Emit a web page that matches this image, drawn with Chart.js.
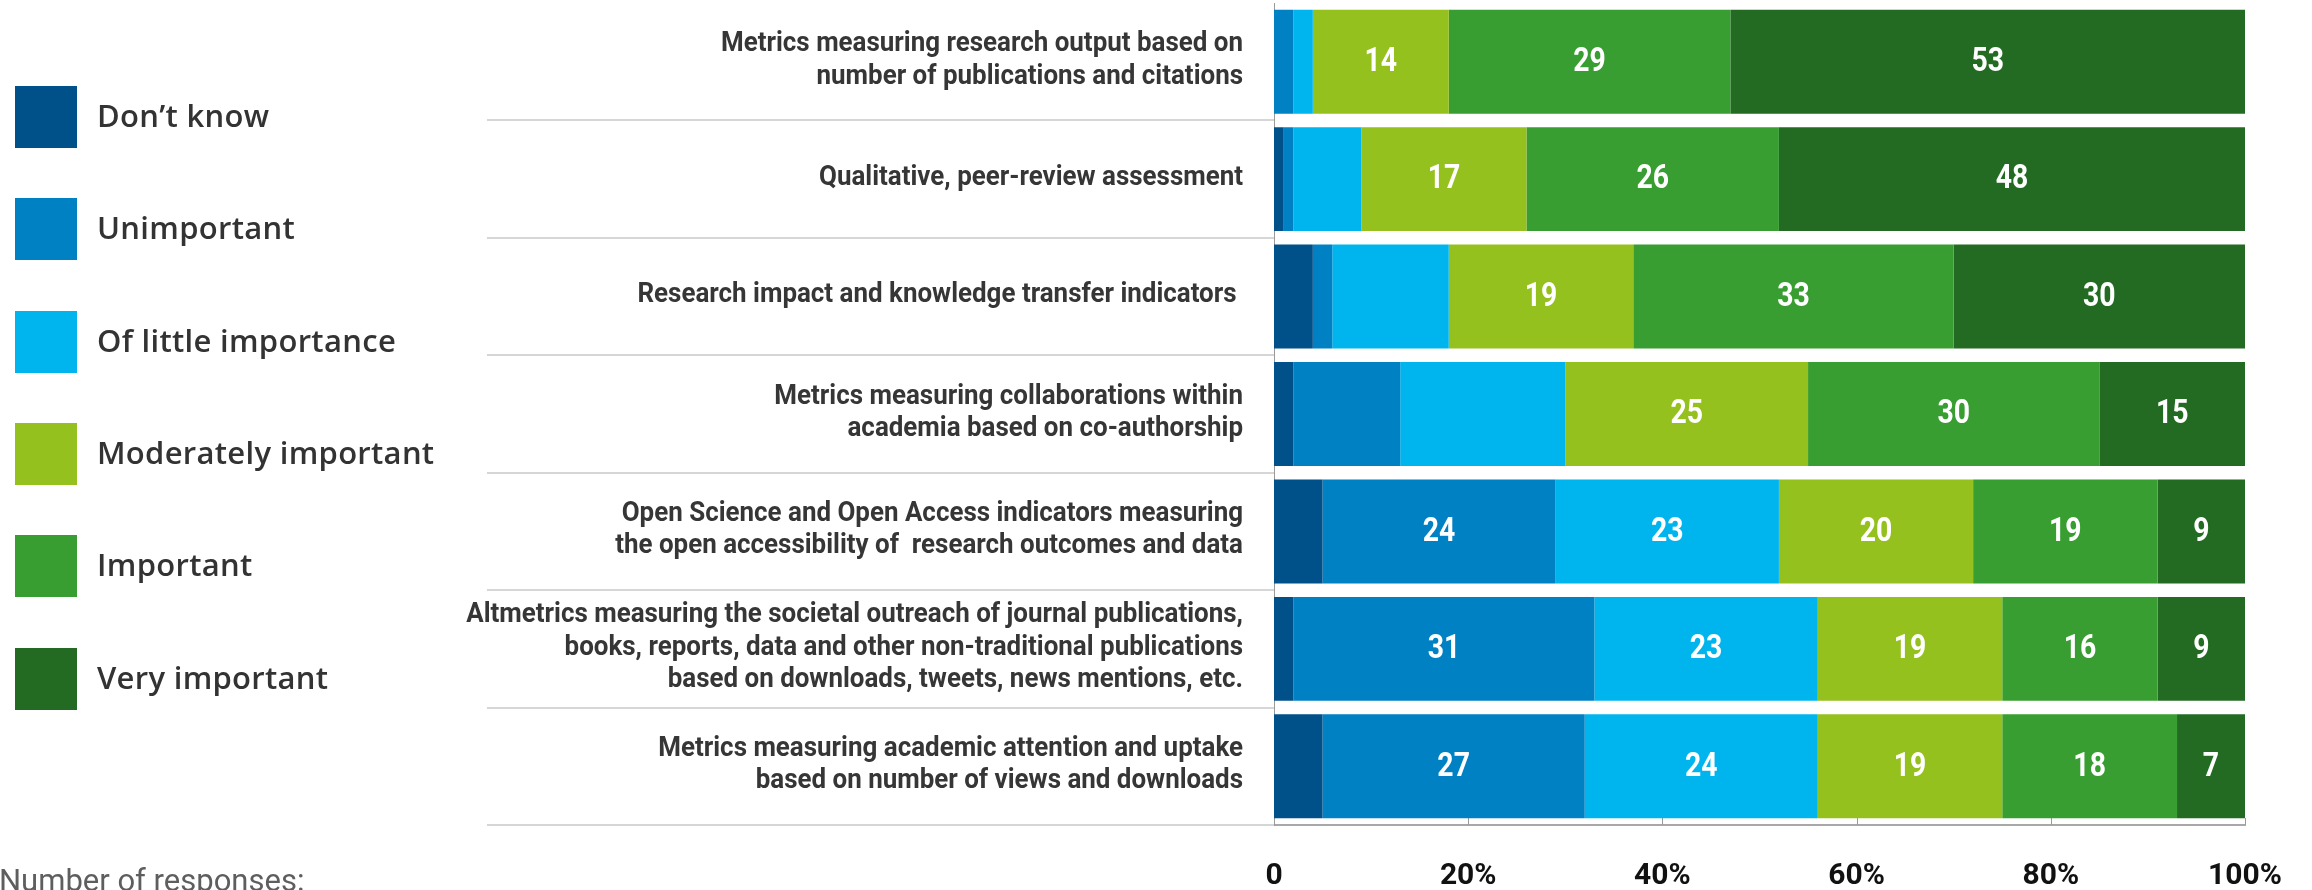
<!DOCTYPE html>
<html>
<head>
<meta charset="utf-8">
<script src="https://cdn.jsdelivr.net/npm/chart.js@4.4.1/dist/chart.umd.min.js"></script>
<style>
  html, body { margin: 0; padding: 0; background: #ffffff; }
  body { width: 2312px; height: 890px; position: relative; overflow: hidden; }
  #wrap { position: absolute; left: 0; top: 0; width: 2312px; height: 890px; }
  #legend { position: absolute; left: 0; top: 0; }
  .lg-item { position: absolute; left: 15px; height: 62px; width: 460px; }
  .lg-box { position: absolute; left: 0; top: 0; width: 62px; height: 62px; }
  .lg-text { position: absolute; left: 82px; top: -2px; height: 62px; line-height: 62px; white-space: nowrap;
             font-family: "Open Sans", "Noto Sans", sans-serif; font-weight: 600; font-size: 31px; color: #333333; letter-spacing: 0.3px; }
  #note { position: absolute; left: -1px; top: 862px; font-family: Roboto, "Open Sans", sans-serif; font-size: 31px;
          color: #5e5e5e; white-space: nowrap; }
</style>
</head>
<body>
<div id="wrap"><canvas id="c" width="2312" height="890"></canvas></div>
<div id="legend"></div>
<div id="note">Number of responses:</div>
<script>
// ---- data ----
const categories = [
  ["Metrics measuring research output based on", "number of publications and citations"],
  ["Qualitative, peer-review assessment"],
  ["Research impact and knowledge transfer indicators "],
  ["Metrics measuring collaborations within", "academia based on co-authorship"],
  ["Open Science and Open Access indicators measuring", "the open accessibility of  research outcomes and data"],
  ["Altmetrics measuring the societal outreach of journal publications,", "books, reports, data and other non-traditional publications", "based on downloads, tweets, news mentions, etc."],
  ["Metrics measuring academic attention and uptake", "based on number of views and downloads"]
];
const seriesNames = ["Don\u2019t know", "Unimportant", "Of little importance", "Moderately important", "Important", "Very important"];
const dontKnow      = [0, 1, 4, 2, 5, 2, 5];
const unimportant   = [2, 1, 2, 11, 24, 31, 27];
const littleImp     = [2, 7, 12, 17, 23, 23, 24];
const moderatelyImp = [14, 17, 19, 25, 20, 19, 19];
const important     = [29, 26, 33, 30, 19, 16, 18];
const veryImportant = [53, 48, 30, 15, 9, 9, 7];
const xTickLabels = ["0", "20%", "40%", "60%", "80%", "100%"];

// ---- styles ----
const colors = ["#00508a", "#0081c3", "#00b5ee", "#95c11f", "#389e31", "#236b22"];
// minimum value for a segment's number to be printed, per series
const labelMin = [Infinity, 20, 20, 7, 7, 7];
const labelFont = "bold 27px Roboto, 'DejaVu Sans', sans-serif";
const labelTargetWidth = 522;   // approx. width of the first line of the first label
const labelLineHeight = 32.5;
const valueFont = "bold 33px Roboto, 'DejaVu Sans', sans-serif";
const valueSquash = 0.86;

const seriesValues = [dontKnow, unimportant, littleImp, moderatelyImp, important, veryImportant];

// legend (HTML, real text)
const legendEl = document.getElementById('legend');
seriesNames.forEach((name, i) => {
  const item = document.createElement('div');
  item.className = 'lg-item';
  item.style.top = (86 + i * 112.3) + 'px';
  const box = document.createElement('div');
  box.className = 'lg-box';
  box.style.background = colors[i];
  const txt = document.createElement('div');
  txt.className = 'lg-text';
  txt.textContent = name;
  item.appendChild(box); item.appendChild(txt);
  legendEl.appendChild(item);
});

const decorPlugin = {
  id: 'decor',
  beforeDatasetsDraw(chart) {
    const { ctx, chartArea, scales } = chart;
    const y = scales.y, x = scales.x;
    const band = y.getPixelForValue(1) - y.getPixelForValue(0);
    ctx.save();
    // row separators in the label area
    ctx.strokeStyle = '#d6d6d6';
    ctx.lineWidth = 2;
    for (let i = 0; i < chart.data.labels.length; i++) {
      const yy = Math.round(y.getPixelForValue(i) + band / 2);
      ctx.beginPath();
      ctx.moveTo(487, yy);
      ctx.lineTo(chartArea.left, yy);
      ctx.stroke();
    }
    // upward tick marks on x axis
    ctx.strokeStyle = '#9a9a9a';
    ctx.lineWidth = 1;
    x.ticks.forEach((t) => {
      const px = Math.round(x.getPixelForValue(t.value)) + 0.5;
      ctx.beginPath();
      ctx.moveTo(px, chartArea.bottom);
      ctx.lineTo(px, chartArea.bottom - 7);
      ctx.stroke();
    });
    // category labels (condensed by horizontal scaling)
    ctx.font = labelFont;
    ctx.fillStyle = '#363636';
    ctx.textAlign = 'right';
    ctx.textBaseline = 'middle';
    const sx = labelTargetWidth / ctx.measureText(chart.data.labels[0][0]).width;
    const rightX = chartArea.left - 31;
    chart.data.labels.forEach((lines, i) => {
      const yc = y.getPixelForValue(i);
      lines.forEach((line, k) => {
        const ly = yc + (k - (lines.length - 1) / 2) * labelLineHeight - 1;
        ctx.save();
        ctx.translate(rightX, ly);
        ctx.scale(sx, 1);
        ctx.fillText(line, 0, 0);
        ctx.restore();
      });
    });
    ctx.restore();
  },
  afterDatasetsDraw(chart) {
    const { ctx } = chart;
    ctx.save();
    ctx.fillStyle = '#ffffff';
    ctx.textAlign = 'center';
    ctx.textBaseline = 'middle';
    ctx.font = valueFont;
    chart.data.datasets.forEach((ds, di) => {
      const meta = chart.getDatasetMeta(di);
      meta.data.forEach((el, i) => {
        const v = ds.data[i];
        if (v >= labelMin[di]) {
          ctx.save();
          ctx.translate((el.x + el.base) / 2, el.y + 1);
          ctx.scale(valueSquash, 1);
          ctx.fillText(String(v), 0, 0);
          ctx.restore();
        }
      });
    });
    ctx.restore();
  }
};

new Chart(document.getElementById('c'), {
  type: 'bar',
  data: {
    labels: categories,
    datasets: seriesNames.map((n, i) => ({
      label: n,
      data: seriesValues[i],
      backgroundColor: colors[i],
      borderWidth: 0,
      barPercentage: 0.885,
      categoryPercentage: 1.0
    }))
  },
  options: {
    indexAxis: 'y',
    responsive: false,
    animation: false,
    devicePixelRatio: 1,
    layout: { padding: { left: 480, right: 67, top: 3, bottom: 0 } },
    plugins: { legend: { display: false }, tooltip: { enabled: false } },
    scales: {
      x: {
        stacked: true,
        min: 0, max: 100,
        grid: { display: false, drawTicks: false },
        border: { display: true, color: '#a8a8a8', width: 2 },
        ticks: {
          stepSize: 20,
          padding: 33,
          color: '#111111',
          font: { family: "Roboto, 'DejaVu Sans', sans-serif", size: 30, weight: 'bold' },
          maxRotation: 0,
          callback: (v, idx) => xTickLabels[idx]
        },
        afterFit(scale) { scale.height = 65; scale.paddingLeft = 0; scale.paddingRight = 0; }
      },
      y: {
        stacked: true,
        grid: { display: false, drawTicks: false },
        border: { display: true, color: '#9a9a9a', width: 1 },
        ticks: { display: false },
        afterFit(scale) { scale.width = 794; scale.paddingTop = 0; scale.paddingBottom = 0; }
      }
    }
  },
  plugins: [decorPlugin]
});
</script>
</body>
</html>
